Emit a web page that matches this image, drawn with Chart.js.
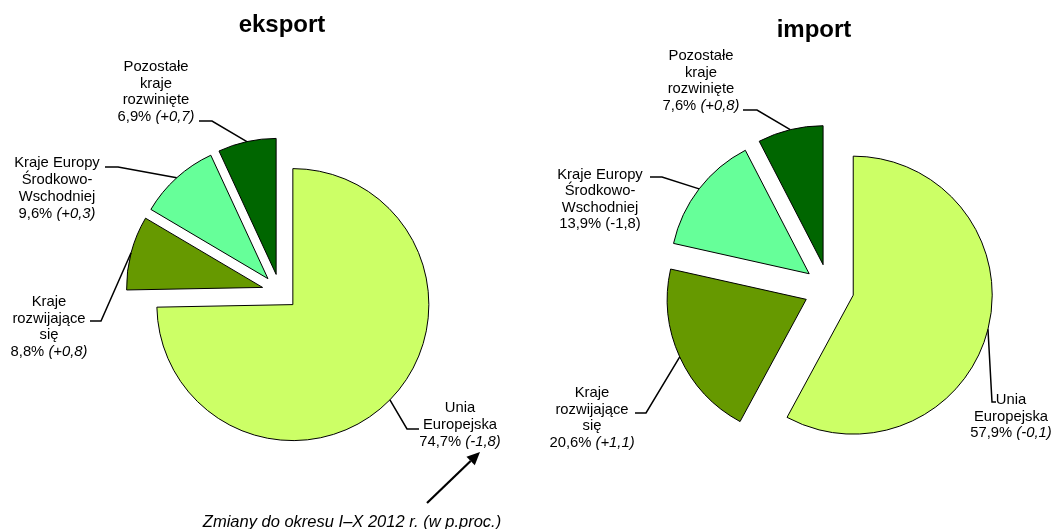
<!DOCTYPE html>
<html><head><meta charset="utf-8">
<script src="https://cdn.jsdelivr.net/npm/chart.js@4.4.1/dist/chart.umd.min.js"></script>
<style>
html,body{margin:0;padding:0;background:#fff;width:1053px;height:529px;overflow:hidden}
canvas{position:absolute;left:0;top:0}
</style></head>
<body>
<canvas id="cExport" width="1053" height="529"></canvas>
<canvas id="cImport" width="1053" height="529"></canvas>
<script>
// ---------- DATA ----------
const categories = ['Unia Europejska', 'Kraje rozwijające się', 'Kraje Europy Środkowo-Wschodniej', 'Pozostałe kraje rozwinięte'];
const labelLines = [['Unia', 'Europejska'], ['Kraje', 'rozwijające', 'się'], ['Kraje Europy', 'Środkowo-', 'Wschodniej'], ['Pozostałe', 'kraje', 'rozwinięte']];
const exportShares = [74.7, 8.8, 9.6, 6.9];
const exportChanges = ['-1,8', '+0,8', '+0,3', '+0,7'];
const importShares = [57.9, 20.6, 13.9, 7.6];
const importChanges = ['-0,1', '+1,1', '-1,8', '+0,8'];
const chartTitles = ['eksport', 'import'];
const footnote = 'Zmiany do okresu I–X 2012 r. (w p.proc.)';

// ---------- STYLE / LAYOUT ----------
const sliceColors = ['#CCFF66', '#669900', '#66FF99', '#006600'];
const FONT = '"Liberation Sans", Arial, sans-serif';
const LABEL_SIZE = 14.8;

const exportLayout = {
  radius: 136, explode: 18,
  padding: {left: 10, right: 503, top: 60, bottom: 5},
  title: {x: 282, y: 25},
  labels: [
    {cx: 460, y0: 408, lh: 17, leader: [[419, 429], [407, 429]]},
    {cx: 49, y0: 302, lh: 16.5, leader: [[90, 321], [101, 321]]},
    {cx: 57, y0: 163, lh: 17, leader: [[105, 167], [118, 167]]},
    {cx: 156, y0: 67, lh: 16.7, leader: [[199, 121], [212, 121]]}
  ],
  italicChange: [true, true, true, true],
  footnote: {x: 352, y: 522, arrowFrom: [427, 503], arrowTo: [480, 452]}
};
const importLayout = {
  radius: 139, explode: 25,
  padding: {left: 610, right: 5, top: 55, bottom: 6},
  title: {x: 814, y: 30},
  labels: [
    {cx: 1011, y0: 400, lh: 16.5, leader: [[996, 402], [992, 402]]},
    {cx: 592, y0: 393, lh: 16.7, leader: [[635, 413], [646, 413]]},
    {cx: 600, y0: 175, lh: 16.3, leader: [[650, 177], [662, 177]]},
    {cx: 701, y0: 56, lh: 16.5, leader: [[743, 110], [757, 110]]}
  ],
  italicChange: [true, true, false, true],
  footnote: null
};

function fmtShare(v) { return v.toFixed(1).replace('.', ',') + '% '; }

function drawMixed(ctx, cx, y, parts) {
  let w = 0;
  parts.forEach(p => { ctx.font = (p.italic ? 'italic ' : '') + LABEL_SIZE + 'px ' + FONT; p.w = ctx.measureText(p.text).width; w += p.w; });
  let x = cx - w / 2;
  ctx.textAlign = 'left';
  parts.forEach(p => { ctx.font = (p.italic ? 'italic ' : '') + LABEL_SIZE + 'px ' + FONT; ctx.fillText(p.text, x, y); x += p.w; });
}

const pieDecor = {
  id: 'pieDecor',
  beforeDatasetsDraw(chart, args, opts) {
    // explode every slice outward along its bisector (pie centre = chart area centre)
    const ca = chart.chartArea;
    const cx = (ca.left + ca.right) / 2, cy = (ca.top + ca.bottom) / 2;
    const L = opts.layout;
    chart.getDatasetMeta(0).data.forEach(arc => {
      const mid = (arc.startAngle + arc.endAngle) / 2;
      arc.x = cx + Math.cos(mid) * L.explode;
      arc.y = cy + Math.sin(mid) * L.explode;
      arc.outerRadius = L.radius;
    });
  },
  afterDraw(chart, args, opts) {
    const ctx = chart.ctx;
    const L = opts.layout;
    const meta = chart.getDatasetMeta(0);
    ctx.save();
    ctx.fillStyle = '#000';
    ctx.strokeStyle = '#000';
    ctx.textBaseline = 'middle';
    // title
    ctx.font = 'bold 24px ' + FONT;
    ctx.textAlign = 'center';
    ctx.fillText(opts.title, L.title.x, L.title.y);
    // labels & leaders
    meta.data.forEach((arc, i) => {
      const lab = L.labels[i];
      const mid = (arc.startAngle + arc.endAngle) / 2;
      const px = arc.x + Math.cos(mid) * arc.outerRadius;
      const py = arc.y + Math.sin(mid) * arc.outerRadius;
      ctx.lineWidth = 1.5;
      ctx.beginPath();
      ctx.moveTo(lab.leader[0][0], lab.leader[0][1]);
      ctx.lineTo(lab.leader[1][0], lab.leader[1][1]);
      ctx.lineTo(px, py);
      ctx.stroke();
      const lines = labelLines[i];
      lines.forEach((t, k) => drawMixed(ctx, lab.cx, lab.y0 + k * lab.lh, [{text: t, italic: false}]));
      drawMixed(ctx, lab.cx, lab.y0 + lines.length * lab.lh, [
        {text: fmtShare(opts.shares[i]), italic: false},
        {text: '(' + opts.changes[i] + ')', italic: L.italicChange[i]}
      ]);
    });
    // footnote + arrow
    if (L.footnote) {
      const f = L.footnote;
      ctx.font = 'italic 16.5px ' + FONT;
      ctx.textAlign = 'center';
      ctx.fillText(footnote, f.x, f.y);
      const [x0, y0] = f.arrowFrom, [x1, y1] = f.arrowTo;
      const ang = Math.atan2(y1 - y0, x1 - x0);
      const hl = 13, hw = 6;
      const bx = x1 - Math.cos(ang) * hl, by = y1 - Math.sin(ang) * hl;
      ctx.lineWidth = 2.2;
      ctx.beginPath(); ctx.moveTo(x0, y0); ctx.lineTo(bx, by); ctx.stroke();
      ctx.beginPath();
      ctx.moveTo(x1, y1);
      ctx.lineTo(bx + Math.sin(ang) * hw, by - Math.cos(ang) * hw);
      ctx.lineTo(bx - Math.sin(ang) * hw, by + Math.cos(ang) * hw);
      ctx.closePath(); ctx.fill();
    }
    ctx.restore();
  }
};

function makePie(id, shares, changes, title, layout) {
  return new Chart(document.getElementById(id), {
    type: 'pie',
    data: {
      labels: categories,
      datasets: [{
        data: shares,
        backgroundColor: sliceColors,
        borderColor: '#000',
        borderWidth: 1,
        borderJoinStyle: 'miter',
        offset: 0
      }]
    },
    options: {
      responsive: false,
      animation: false,
      events: [],
      radius: layout.radius,
      layout: {padding: layout.padding},
      plugins: {
        legend: {display: false},
        tooltip: {enabled: false},
        pieDecor: {layout: layout, title: title, shares: shares, changes: changes}
      }
    },
    plugins: [pieDecor]
  });
}

makePie('cExport', exportShares, exportChanges, chartTitles[0], exportLayout);
makePie('cImport', importShares, importChanges, chartTitles[1], importLayout);
</script>
</body></html>
